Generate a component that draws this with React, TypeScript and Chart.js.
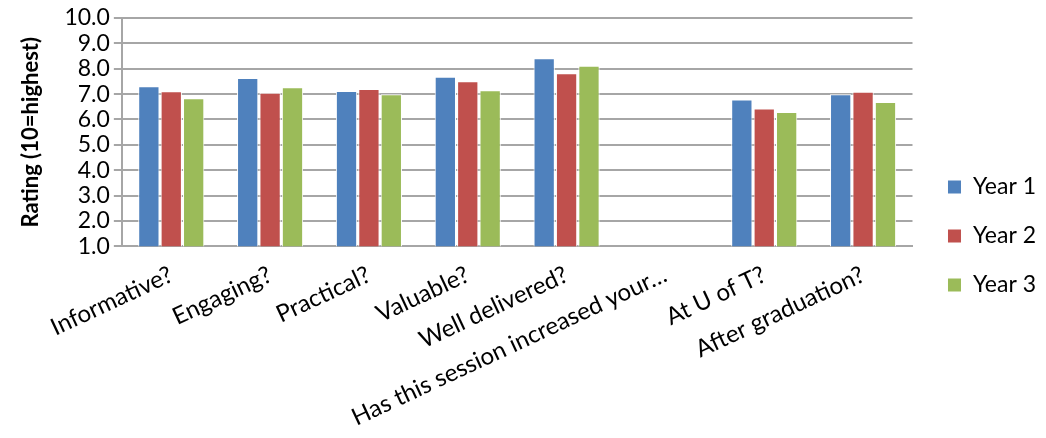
import React, { useEffect, useRef } from "react";
import { Chart, registerables } from "chart.js";

Chart.register(...registerables);

const categories = [
  "Informative?",
  "Engaging?",
  "Practical?",
  "Valuable?",
  "Well delivered?",
  "Has this session increased your…",
  "At U of T?",
  "After graduation?",
];
const year1: (number | null)[] = [7.31, 7.64, 7.12, 7.68, 8.41, null, 6.79, 6.99];
const year2: (number | null)[] = [7.11, 7.05, 7.2, 7.51, 7.82, null, 6.43, 7.09];
const year3: (number | null)[] = [6.84, 7.27, 6.99, 7.15, 8.12, null, 6.3, 6.69];
const seriesNames = ["Year 1", "Year 2", "Year 3"];
const colors = ["#4F81BD", "#C0504D", "#9BBB59"];

const FONT = "Lato, 'Liberation Sans', sans-serif";

export default function App() {
  const ref = useRef<HTMLCanvasElement | null>(null);
  useEffect(() => {
    document.body.style.margin = "0";
    const ctx = ref.current!;
    const data = [year1, year2, year3];
    const chart = new Chart(ctx, {
      type: "bar",
      data: {
        labels: categories,
        datasets: data.map((d, i) => ({
          label: seriesNames[i],
          data: d,
          backgroundColor: colors[i],
          borderColor: "#ffffff",
          borderWidth: 1,
          barPercentage: 0.95,
          categoryPercentage: 0.68,
        })),
      },
      options: {
        responsive: false,
        animation: false,
        layout: { padding: { top: 18, right: 0, left: 18, bottom: 0 } },
        plugins: {
          legend: {
            position: "right",
            title: { display: true, text: "", padding: 2, font: { size: 10 } },
            labels: {
              boxWidth: 14,
              boxHeight: 14,
              padding: 26,
              color: "#000",
              font: { family: FONT, size: 23 },
            },
          },
          tooltip: { enabled: false },
        },
        scales: {
          x: {
            grid: { display: false },
            border: { color: "#a6a6a6", width: 2 },
            ticks: {
              minRotation: 25,
              maxRotation: 25,
              autoSkip: false,
              padding: 6,
              color: "#000",
              font: { family: FONT, size: 24 },
            },
          },
          y: {
            min: 1,
            max: 10,
            border: { color: "#a6a6a6", width: 2 },
            grid: { color: "#a6a6a6", lineWidth: 2, tickLength: 8 },
            ticks: {
              stepSize: 1,
              autoSkip: false,
              padding: 4,
              color: "#000",
              font: { family: FONT, size: 23 },
              callback: (v: any) => Number(v).toFixed(1),
            },
            title: {
              display: true,
              text: "Rating (10=highest)",
              color: "#000",
              padding: { top: 0, bottom: 16 },
              font: { family: FONT, size: 22, weight: "bold" },
            },
          },
          gap: {
            position: "right",
            display: true,
            grid: { display: false },
            border: { display: false },
            ticks: { display: false },
            afterFit: (s: any) => {
              s.width = 9;
            },
          },
        },
      },
    });
    return () => chart.destroy();
  }, []);
  return (
    <div style={{ width: 1046, height: 438 }}>
      <canvas ref={ref} width={1046} height={438} />
    </div>
  );
}
